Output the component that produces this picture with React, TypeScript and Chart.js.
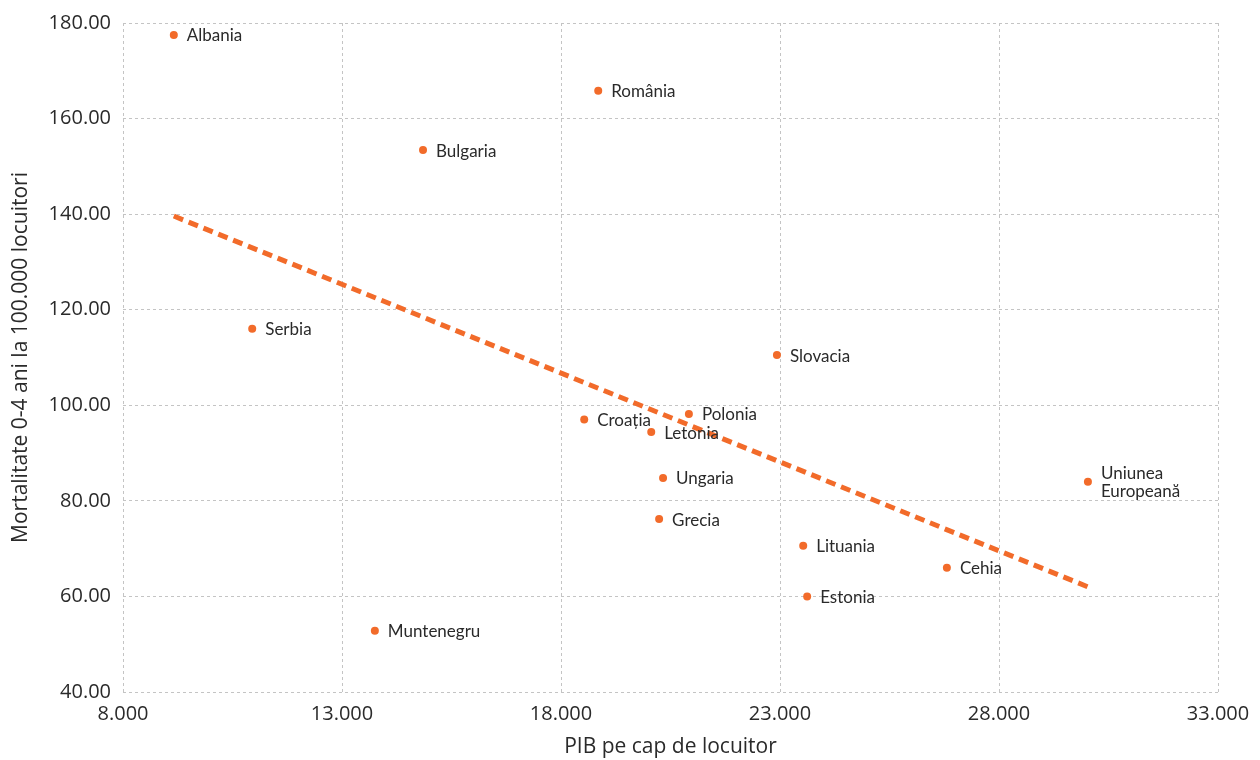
import React, { useEffect, useRef } from "react";
import { Chart, registerables } from "chart.js";

Chart.register(...registerables);

const countries = [
  "Albania",
  "România",
  "Bulgaria",
  "Serbia",
  "Slovacia",
  "Polonia",
  "Croația",
  "Letonia",
  "Ungaria",
  "Grecia",
  "Uniunea\nEuropeană",
  "Lituania",
  "Cehia",
  "Estonia",
  "Muntenegru",
];
const gdpPerCapita = [9160, 18850, 14850, 10950, 22930, 20920, 18530, 20060, 20330, 20240, 30030, 23530, 26810, 23620, 13750];
const mortality = [177.5, 165.8, 153.4, 116.0, 110.5, 98.2, 97.0, 94.4, 84.8, 76.2, 84.0, 70.6, 66.0, 60.0, 52.8];
const trendX = [9160, 30030];
const trendY = [139.6, 62.0];

const xTitle = "PIB pe cap de locuitor";
const yTitle = "Mortalitate 0-4 ani la 100.000 locuitori";

const ORANGE = "#F26B2A";
const TEXT = "#2a2a2a";
const GRID = "#c4c4c4";

const fmtThousands = (v: number) => {
  const n = Math.round(v);
  const th = Math.floor(n / 1000);
  const rest = String(n % 1000).padStart(3, "0");
  return `${th}.${rest}`;
};

const labelPlugin = {
  id: "pointLabels",
  afterDatasetsDraw(chart: any) {
    const meta = chart.getDatasetMeta(0);
    const ctx = chart.ctx;
    ctx.save();
    ctx.font = "17px Lato";
    ctx.fillStyle = TEXT;
    ctx.textBaseline = "middle";
    ctx.textAlign = "left";
    meta.data.forEach((pt: any, i: number) => {
      const lines = countries[i].split("\n");
      const lh = 18;
      lines.forEach((line: string, j: number) => {
        ctx.fillText(line, pt.x + 13, pt.y + 1 + (j - (lines.length - 1) / 2) * lh);
      });
    });
    ctx.restore();
  },
};

export default function App() {
  const canvasRef = useRef<HTMLCanvasElement | null>(null);

  useEffect(() => {
    document.body.style.margin = "0";
    const canvas = canvasRef.current;
    if (!canvas) return;
    const points = gdpPerCapita.map((x, i) => ({ x, y: mortality[i] }));
    const trend = trendX.map((x, i) => ({ x, y: trendY[i] }));
    const chart = new Chart(canvas, {
      type: "scatter",
      data: {
        datasets: [
          {
            label: "Țări",
            data: points,
            backgroundColor: ORANGE,
            borderColor: ORANGE,
            pointRadius: 4,
            pointHoverRadius: 4,
            borderWidth: 0,
            order: 0,
          },
          {
            type: "line",
            label: "Trend",
            data: trend,
            borderColor: ORANGE,
            borderWidth: 5,
            borderDash: [10, 6],
            pointRadius: 0,
            fill: false,
            showLine: true,
            order: 1,
          } as any,
        ],
      },
      options: {
        animation: false,
        responsive: false,
        devicePixelRatio: 1,
        layout: { padding: { top: 23, right: 42, left: 0, bottom: 0 } },
        plugins: {
          legend: { display: false },
          tooltip: { enabled: false },
        },
        scales: {
          x: {
            type: "linear",
            min: 8000,
            max: 33000,
            afterFit: (scale: any) => {
              scale.height = 68;
              scale.paddingLeft = 0;
              scale.paddingRight = 0;
            },
            ticks: {
              stepSize: 5000,
              callback: (v: any) => fmtThousands(Number(v)),
              font: { family: "Open Sans", size: 20 },
              color: TEXT,
              padding: 10,
              maxRotation: 0,
            },
            grid: { color: GRID, lineWidth: 1, drawTicks: false, tickLength: 0 },
            border: { display: false, dash: [3, 3] },
            title: {
              display: true,
              text: xTitle,
              font: { family: "Open Sans", size: 21 },
              color: TEXT,
              padding: { top: 0, bottom: 0 },
            },
          },
          y: {
            type: "linear",
            min: 40,
            max: 180,
            afterFit: (scale: any) => {
              scale.width = 123;
              scale.paddingTop = 0;
              scale.paddingBottom = 0;
            },
            ticks: {
              stepSize: 20,
              callback: (v: any) => Number(v).toFixed(2),
              font: { family: "Open Sans", size: 20 },
              color: TEXT,
              padding: 12,
            },
            grid: { color: GRID, lineWidth: 1, drawTicks: false, tickLength: 0 },
            border: { display: false, dash: [3, 3] },
            title: {
              display: true,
              text: yTitle,
              font: { family: "Open Sans", size: 21 },
              color: TEXT,
              padding: { top: 8, bottom: 0 },
            },
          },
        },
      },
      plugins: [labelPlugin],
    });
    return () => chart.destroy();
  }, []);

  return (
    <div style={{ position: "absolute", left: 0, top: 0, width: 1260, height: 760, background: "#fff" }}>
      <canvas ref={canvasRef} width={1260} height={760} />
    </div>
  );
}
